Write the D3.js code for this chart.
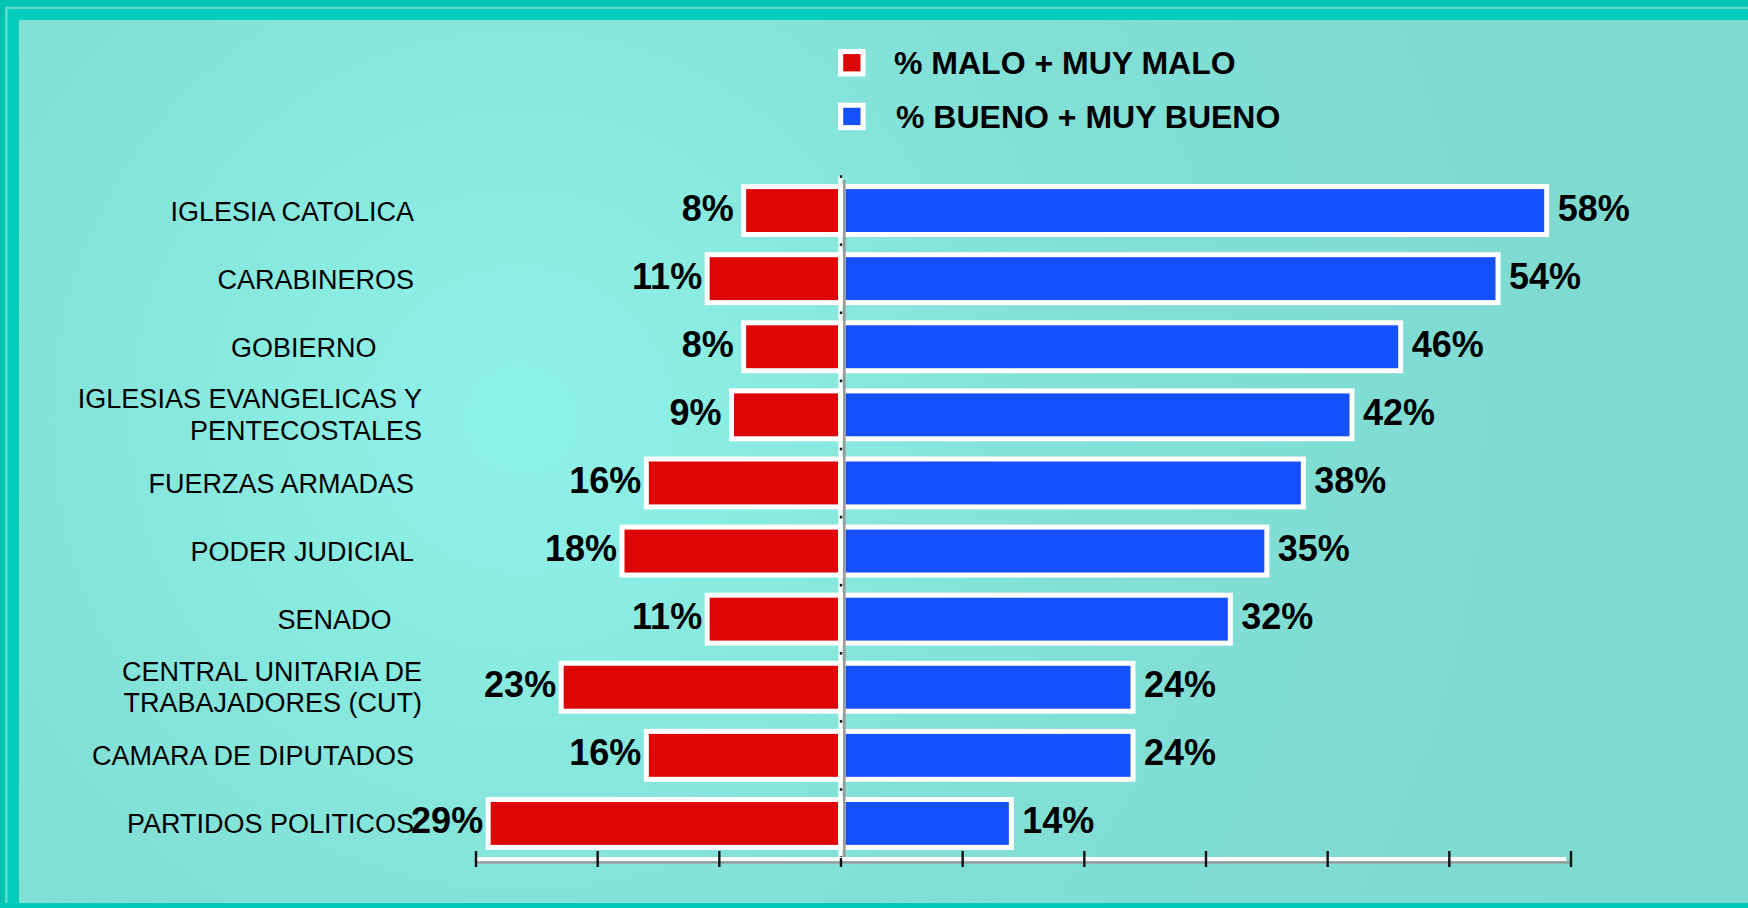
<!DOCTYPE html>
<html><head><meta charset="utf-8">
<script src="https://cdn.jsdelivr.net/npm/d3@7/dist/d3.min.js"></script>
<style>html,body{margin:0;padding:0;background:#00c4b4;}svg{display:block;}</style>
</head><body>
<svg id="chart" width="1748" height="908"></svg>
<script>
const categories = ["IGLESIA CATOLICA", "CARABINEROS", "GOBIERNO\u00a0\u00a0\u00a0\u00a0\u00a0", "IGLESIAS EVANGELICAS Y|PENTECOSTALES", "FUERZAS ARMADAS", "PODER JUDICIAL", "SENADO\u00a0\u00a0\u00a0", "CENTRAL UNITARIA DE|TRABAJADORES (CUT)", "CAMARA DE DIPUTADOS", "PARTIDOS POLITICOS"];
const malo = [8, 11, 8, 9, 16, 18, 11, 23, 16, 29];
const bueno = [58, 54, 46, 42, 38, 35, 32, 24, 24, 14];
const seriesNames = ["% MALO + MUY MALO", "% BUENO + MUY BUENO"];
const colors = ["#dd0606", "#1450fc"];

const W = 1748, H = 908;
const svg = d3.select("#chart");
const font = "Arial, 'Liberation Sans', sans-serif";

// frame
svg.append("rect").attr("x",0).attr("y",0).attr("width",W).attr("height",H).attr("fill","#00c2b2");
svg.append("rect").attr("x",6.3).attr("y",8).attr("width",W+20).attr("height",H+20)
  .attr("fill","#00cdbe").attr("stroke","#5cdccd").attr("stroke-width",2.6);
const defs = svg.append("defs");
const rg = defs.append("radialGradient").attr("id","bg").attr("gradientUnits","userSpaceOnUse")
  .attr("cx",520).attr("cy",420).attr("r",1150);
rg.append("stop").attr("offset",0).attr("stop-color","#8ff2e8");
rg.append("stop").attr("offset",0.55).attr("stop-color","#81dfd5");
rg.append("stop").attr("offset",1).attr("stop-color","#7fdad0");
svg.append("rect").attr("x",19).attr("y",20).attr("width",W-19).attr("height",883).attr("fill","url(#bg)");
svg.append("rect").attr("x",0).attr("y",903).attr("width",W).attr("height",5).attr("fill","#00c9b9");

// scales
const x = d3.scaleLinear().domain([-30, 60]).range([476, 1571]);
const y = d3.scaleBand().domain(d3.range(categories.length)).range([176.5, 857.5])
  .paddingInner(0.37).paddingOuter(0.185);
const bw = y.bandwidth();
const x0 = x(0);

const g = svg.append("g");
const rows = g.selectAll("g.row").data(categories.map((c,i)=>({c, i, m: malo[i], b: bueno[i]})))
  .join("g").attr("class","row");

// white outlines
rows.append("rect").attr("fill","#fff")
  .attr("x", d => x(-d.m) - 2.5).attr("y", d => y(d.i) - 5)
  .attr("width", d => x0 - x(-d.m) + 2.5).attr("height", bw + 10);
rows.append("rect").attr("fill","#fff")
  .attr("x", x0).attr("y", d => y(d.i) - 5)
  .attr("width", d => x(d.b) - x0 + 2.5).attr("height", bw + 10);
// fills
rows.append("rect").attr("fill", colors[0])
  .attr("x", d => x(-d.m) + 2.5).attr("y", d => y(d.i))
  .attr("width", d => x0 - 3 - (x(-d.m) + 2.5)).attr("height", bw);
rows.append("rect").attr("fill", colors[1])
  .attr("x", x0 + 4.5).attr("y", d => y(d.i))
  .attr("width", d => x(d.b) - 2.5 - (x0 + 4.5)).attr("height", bw);

// vertical axis line (3D look)
g.append("rect").attr("x", x0 - 2.6).attr("y", 176).attr("width", 4).attr("height", 685).attr("fill", "#ffffff");
g.append("rect").attr("x", x0 + 2).attr("y", 180).attr("width", 2.6).attr("height", 681).attr("fill", "#9a9a9a");
// category boundary marks
g.selectAll("rect.cm").data(d3.range(categories.length + 1)).join("rect").attr("class","cm")
  .attr("x", x0 - 1.2).attr("y", i => 176.5 + i * y.step() - 1.2).attr("width", 2.4).attr("height", 2.6).attr("fill", "#111");

// horizontal axis
const axisY = 857;
g.append("rect").attr("x", x(-30)).attr("y", axisY).attr("width", x(60) - x(-30) - 5).attr("height", 4.2).attr("fill", "#ffffff");
g.append("rect").attr("x", x(-30)).attr("y", axisY + 4.2).attr("width", x(60) - x(-30)).attr("height", 2.4).attr("fill", "#999999");
g.selectAll("line.tk").data(x.ticks(9)).join("line").attr("class","tk")
  .attr("x1", d => x(d)).attr("x2", d => x(d))
  .attr("y1", d => d === 0 ? 858 : 851).attr("y2", 867)
  .attr("stroke", "#111").attr("stroke-width", 2.4);

// value labels
rows.append("text").attr("x", d => x(-d.m) - (d.m < 10 ? 10 : 5)).attr("y", d => y(d.i) + bw/2 + 10)
  .attr("text-anchor","end").attr("font-family", font).attr("font-weight","bold").attr("font-size", 36)
  .attr("fill","#000").text(d => d.m + "%");
rows.append("text").attr("x", d => x(d.b) + 11).attr("y", d => y(d.i) + bw/2 + 10)
  .attr("text-anchor","start").attr("font-family", font).attr("font-weight","bold").attr("font-size", 36)
  .attr("fill","#000").text(d => d.b + "%");

// category labels
rows.each(function(d) {
  const lines = d.c.split("|");
  const c = y(d.i) + bw/2;
  const t = d3.select(this).append("text").attr("text-anchor","end")
    .attr("font-family", font).attr("font-size", 27).attr("fill","#000");
  if (lines.length === 1) {
    t.append("tspan").attr("x", 414).attr("y", c + 10).text(lines[0]);
  } else {
    t.append("tspan").attr("x", 422).attr("y", c - 6.5).text(lines[0]);
    t.append("tspan").attr("x", 422).attr("y", c + 25.2).text(lines[1]);
  }
});

// legend
const lg = svg.append("g");
const legY = [62.8, 116.5];
seriesNames.forEach((name, i) => {
  lg.append("rect").attr("x", 838).attr("y", legY[i] - 13.8).attr("width", 27.5).attr("height", 27.5).attr("fill", "#fff");
  lg.append("rect").attr("x", 843.2).attr("y", legY[i] - 8.7).attr("width", 17.3).attr("height", 17.3).attr("fill", colors[i]);
  lg.append("text").attr("x", 894 + i*2).attr("y", legY[i] + 11.5)
    .attr("font-family", font).attr("font-weight","bold").attr("font-size", 32).attr("fill","#000").text(name);
});
</script>
</body></html>
